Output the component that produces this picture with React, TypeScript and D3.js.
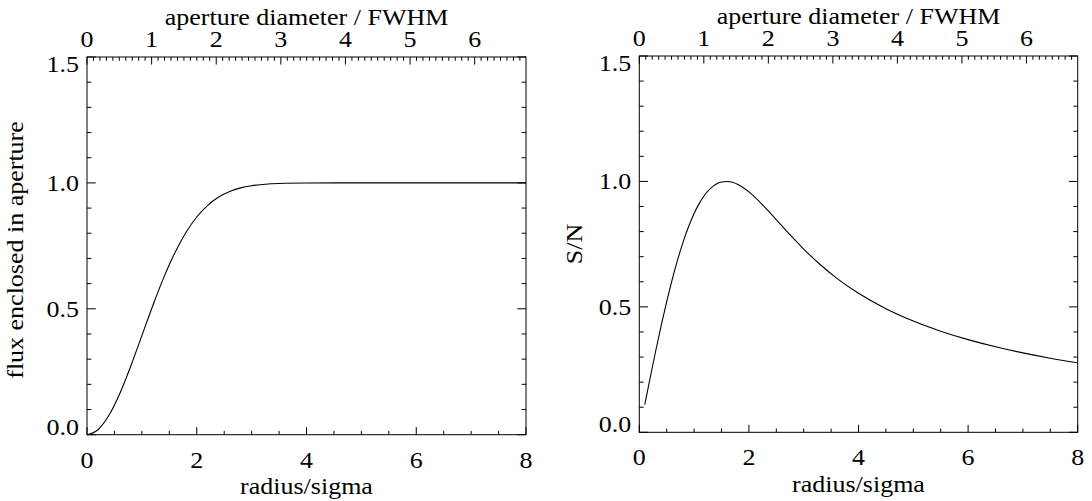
import React from "react";
import * as d3 from "d3";

// Left panel: fraction of flux enclosed in aperture vs radius/sigma
const fluxRadius = [0, 0.2, 0.4, 0.6, 0.8, 1.0, 1.2, 1.4, 1.6, 1.8, 2.0, 2.2, 2.4, 2.6, 2.8, 3.0, 3.3, 3.6, 4.0, 5.0, 6.0, 7.0, 8.0];
const fluxValues = [0, 0.0198, 0.0769, 0.1647, 0.2739, 0.3935, 0.5132, 0.6247, 0.722, 0.8021, 0.8647, 0.9111, 0.9439, 0.966, 0.9802, 0.9889, 0.9957, 0.9985, 0.9997, 1.0, 1.0, 1.0, 1.0];

// Right panel: relative S/N vs radius/sigma
const snRadius = [0.1, 0.2, 0.3, 0.4, 0.5, 0.6, 0.7, 0.8, 0.9, 1.0, 1.1, 1.2, 1.3, 1.4, 1.5, 1.6, 1.7, 1.8, 2.0, 2.2, 2.4, 2.6, 2.8, 3.0, 3.3, 3.6, 4.0, 4.5, 5.0, 5.5, 6.0, 6.5, 7.0, 7.5, 8.0];
const snValues = [0.1105, 0.2194, 0.3251, 0.4261, 0.5208, 0.6084, 0.688, 0.7589, 0.8201, 0.8721, 0.9145, 0.9479, 0.9725, 0.989, 0.9978, 1.0, 0.9964, 0.9876, 0.9582, 0.9179, 0.8717, 0.8234, 0.7759, 0.7306, 0.6688, 0.6147, 0.554, 0.4925, 0.4433, 0.403, 0.3694, 0.341, 0.3166, 0.2955, 0.277];

const xTickLabels = ["0", "2", "4", "6", "8"];
const xTicks = [0, 2, 4, 6, 8];
const yTicks = [0, 0.5, 1.0, 1.5];
const yTickLabels = ["0.0", "0.5", "1.0", "1.5"];
const topTicks = [0, 1, 2, 3, 4, 5, 6];
const topTickLabels = ["0", "1", "2", "3", "4", "5", "6"];
const FWHM_OVER_DIAM_FACTOR = 1.1774; // radius/sigma per (aperture diameter / FWHM)

const FONT = "'Liberation Serif', 'Times New Roman', serif";
const FS = 23;
const SX = 1.13;

type PanelProps = {
  left: number; right: number; top: number; bottom: number;
  xs: number[]; ys: number[]; ylabel: string; ylabelX: number; ylabelY: number;
};

function T({ x, y, anchor, children, rotate }: { x: number; y: number; anchor: string; children: React.ReactNode; rotate?: boolean }) {
  return (
    <text
      transform={`translate(${x},${y})${rotate ? " rotate(-90)" : ""} scale(${SX},1)`}
      textAnchor={anchor}
      fontFamily={FONT}
      fontSize={FS}
      fill="#000"
    >
      {children}
    </text>
  );
}

function Panel({ left, right, top, bottom, xs, ys, ylabel, ylabelX, ylabelY }: PanelProps) {
  const x = d3.scaleLinear().domain([0, 8]).range([left, right]);
  const y = d3.scaleLinear().domain([0, 1.5]).range([bottom, top]);
  const xt = d3.scaleLinear().domain([0, 8 / FWHM_OVER_DIAM_FACTOR]).range([left, right]);
  const w = right - left;
  const h = bottom - top;
  const majX = 0.02 * h;
  const majY = 0.02 * w;

  const line = d3
    .line<number>()
    .x((_, i) => x(xs[i]))
    .y((d) => y(d))
    .curve(d3.curveMonotoneX);

  const xMinor = d3.range(0, 8.001, 0.5).filter((v) => Math.abs(v % 2) > 1e-6);
  const yMinor = d3.range(0, 1.5001, 0.1).filter((v) => Math.abs((v * 10) % 5) > 1e-6 && Math.abs((v * 10) % 5 - 5) > 1e-6);
  const tMax = 8 / FWHM_OVER_DIAM_FACTOR;
  const tMinor = d3.range(0, tMax, 0.1).filter((v) => Math.abs(v - Math.round(v)) > 1e-6);

  const segs: string[] = [];
  xTicks.forEach((v) => segs.push(`M${x(v)},${bottom}V${bottom - majX}`));
  xMinor.forEach((v) => segs.push(`M${x(v)},${bottom}V${bottom - majX / 2}`));
  topTicks.forEach((v) => segs.push(`M${xt(v)},${top}V${top + majX}`));
  tMinor.forEach((v) => segs.push(`M${xt(v)},${top}V${top + majX / 2}`));
  yTicks.forEach((v) => {
    segs.push(`M${left},${y(v)}H${left + majY}`);
    segs.push(`M${right},${y(v)}H${right - majY}`);
  });
  yMinor.forEach((v) => {
    segs.push(`M${left},${y(v)}H${left + majY / 2}`);
    segs.push(`M${right},${y(v)}H${right - majY / 2}`);
  });

  return (
    <g>
      <rect x={left} y={top} width={w} height={h} fill="none" stroke="#000" strokeWidth={1} />
      <path d={segs.join("")} stroke="#000" strokeWidth={1} fill="none" />
      <path d={line(ys) || ""} stroke="#000" strokeWidth={1.1} fill="none" />
      {xTicks.map((v, i) => (
        <T key={"xb" + i} x={x(v)} y={bottom + 33} anchor="middle">{xTickLabels[i]}</T>
      ))}
      {topTicks.map((v, i) => (
        <T key={"xt" + i} x={xt(v)} y={top - 10.5} anchor="middle">{topTickLabels[i]}</T>
      ))}
      {yTicks.map((v, i) => {
        let by = y(v) + 7.8;
        if (i === 0) by = bottom;
        if (i === yTicks.length - 1) by = top + 15;
        return (
          <T key={"y" + i} x={left - 8} y={by} anchor="end">{yTickLabels[i]}</T>
        );
      })}
      <T x={(left + right) / 2} y={bottom + 59.5} anchor="middle">radius/sigma</T>
      <T x={(left + right) / 2} y={top - 32} anchor="middle">aperture diameter / FWHM</T>
      <T x={ylabelX} y={ylabelY} anchor="middle" rotate>{ylabel}</T>
    </g>
  );
}

export default function App() {
  return (
    <svg
      width={1092}
      height={501}
      style={{ position: "absolute", left: 0, top: 0, background: "#fff" }}
    >
      <rect x={0} y={0} width={1092} height={501} fill="#fff" />
      <Panel left={87} right={526} top={57} bottom={434.7} xs={fluxRadius} ys={fluxValues}
        ylabel="flux enclosed in aperture" ylabelX={23} ylabelY={250} />
      <Panel left={639.3} right={1077.7} top={56} bottom={432.3} xs={snRadius} ys={snValues}
        ylabel="S/N" ylabelX={582} ylabelY={244} />
    </svg>
  );
}
